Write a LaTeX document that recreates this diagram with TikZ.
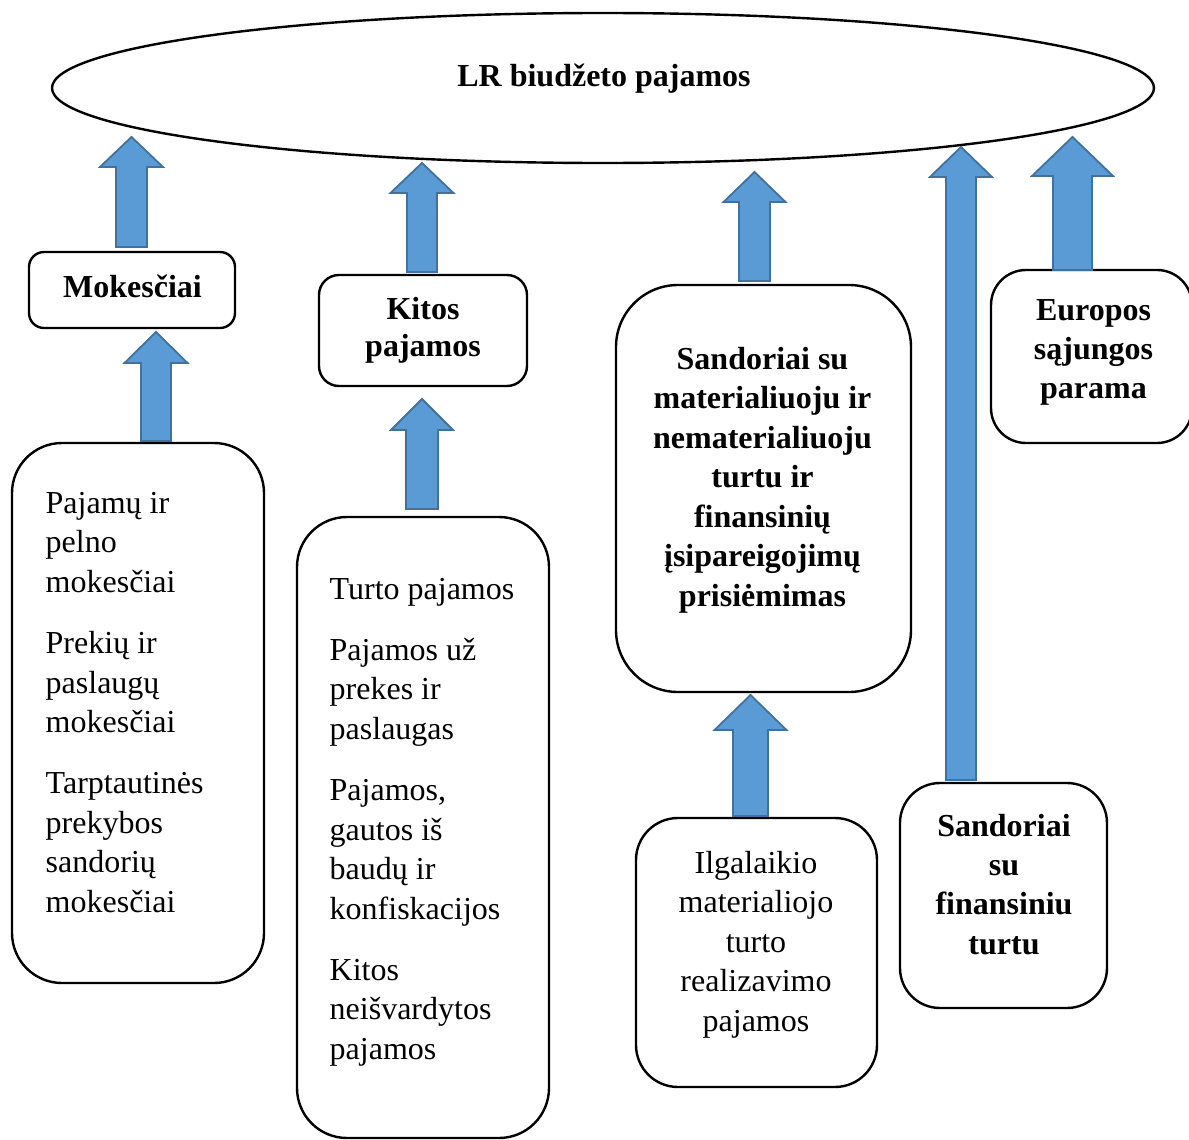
\documentclass[tikz,border=0pt]{standalone}
\usepackage{fontspec}
\setmainfont{Liberation Serif}
\usetikzlibrary{calc,shapes.geometric}

\definecolor{arrowfill}{RGB}{91,155,213}
\definecolor{arrowline}{RGB}{65,113,156}

% block arrow: base coordinate, tip coordinate, shaft half-width, head half-width, head length (pt)
\newcommand\flowarrow[5]{%
  \draw[flow] let \p1=(#1), \p2=(#2) in
    (\x1-#3pt,\y1) -- (\x1-#3pt,\y2-#5pt) -- (\x1-#4pt,\y2-#5pt) -- (\x1,\y2)
    -- (\x1+#4pt,\y2-#5pt) -- (\x1+#3pt,\y2-#5pt) -- (\x1+#3pt,\y1) -- cycle;}

\begin{document}
\begin{tikzpicture}[x=1pt,y=-1pt,
  box/.style={draw=black, line width=2.4pt, rounded corners=#1, inner sep=0pt, fill=white},
  flow/.style={fill=arrowfill, draw=arrowline, line width=1.8pt, line join=miter},
  txt/.style={inner sep=0pt, font=\fontsize{32}{39.5}\selectfont},
  btxt/.style={inner sep=0pt, font=\fontsize{32}{39.5}\selectfont\bfseries}]
\useasboundingbox (0,0) rectangle (1189,1140);

% main ellipse
\node[draw=black, line width=2.4pt, ellipse, inner sep=0pt,
      minimum width=1102pt, minimum height=150pt] (root) at (603,88) {};
\node[btxt, anchor=base] (rootlbl) at (604,87) {LR biudžeto pajamos};

% boxes
\node[box=15, minimum width=206pt, minimum height=76pt]  (mok) at (132,290) {};
\node[box=20, minimum width=208pt, minimum height=111pt] (kit) at (423,330.5) {};
\node[box=62, minimum width=295pt, minimum height=407pt] (sand) at (763.5,488.5) {};
\node[box=35, minimum width=201pt, minimum height=173pt] (eu) at (1091.5,356.5) {};
\node[box=50, minimum width=252pt, minimum height=540pt] (mokl) at (138,713) {};
\node[box=50, minimum width=252pt, minimum height=621pt] (kitl) at (423,827.5) {};
\node[box=42, minimum width=241pt, minimum height=269pt] (ilg) at (756.5,952.5) {};
\node[box=40, minimum width=207pt, minimum height=225pt] (fin) at (1003.5,895.5) {};

% labels (multi-line labels are placed by the baseline of their last line)
\node[btxt, anchor=base] (mokt) at (132.5,297) {Mokesčiai};
\node[btxt, anchor=base, align=center, font=\fontsize{32}{37}\selectfont\bfseries]
  (kitt) at (423,356) {Kitos\\pajamos};
\node[btxt, anchor=base, align=center] (sandt) at (762.5,606)
  {Sandoriai su\\materialiuoju ir\\nematerialiuoju\\turtu ir\\finansinių\\įsipareigojimų\\prisiėmimas};
\node[btxt, anchor=base, align=center, font=\fontsize{32}{39}\selectfont\bfseries]
  (eut) at (1093.5,398) {Europos\\sąjungos\\parama};
\node[txt, anchor=base west, align=left, font=\fontsize{32}{39.4}\selectfont]
  (mokli) at (45.5,912)
  {Pajamų ir\\pelno\\mokesčiai\\[22pt]Prekių ir\\paslaugų\\mokesčiai\\[22pt]Tarptautinės\\prekybos\\sandorių\\mokesčiai};
\node[txt, anchor=base west, align=left, font=\fontsize{32}{39.6}\selectfont]
  (kitli) at (329.5,1059.5)
  {Turto pajamos\\[21.5pt]Pajamos už\\prekes ir\\paslaugas\\[21.5pt]Pajamos,\\gautos iš\\baudų ir\\konfiskacijos\\[21.5pt]Kitos\\neišvardytos\\pajamos};
\node[txt, anchor=base, align=center] (ilgt) at (756,1031)
  {Ilgalaikio\\materialiojo\\turto\\realizavimo\\pajamos};
\node[btxt, anchor=base, align=center, font=\fontsize{32}{39.3}\selectfont\bfseries]
  (fint) at (1004,954) {Sandoriai\\su\\finansiniu\\turtu};

% arrow end points
\coordinate (a1s) at (131.5,247);  \coordinate (a1e) at (131.5,137);
\coordinate (a2s) at (422,272);    \coordinate (a2e) at (422,163);
\coordinate (a3s) at (754.5,281);  \coordinate (a3e) at (754.5,172);
\coordinate (a4s) at (961,780);    \coordinate (a4e) at (961,147);
\coordinate (a5s) at (1072.5,270); \coordinate (a5e) at (1072.5,137);
\coordinate (a6s) at (156,441);    \coordinate (a6e) at (156,332);
\coordinate (a7s) at (422,509);    \coordinate (a7e) at (422,399);
\coordinate (a8s) at (750.5,816);  \coordinate (a8e) at (750.5,695);

% arrows towards the budget
\flowarrow{a1s}{a1e}{15.5}{31.5}{30}
\flowarrow{a2s}{a2e}{15}{31.5}{30}
\flowarrow{a3s}{a3e}{15.5}{31}{30}
\flowarrow{a4s}{a4e}{15}{31}{30}
\flowarrow{a5s}{a5e}{19.5}{40.5}{39}
% arrows into the groups
\flowarrow{a6s}{a6e}{15}{31.5}{31}
\flowarrow{a7s}{a7e}{16}{31}{31}
\flowarrow{a8s}{a8e}{17.5}{36}{35}
\end{tikzpicture}
\end{document}
